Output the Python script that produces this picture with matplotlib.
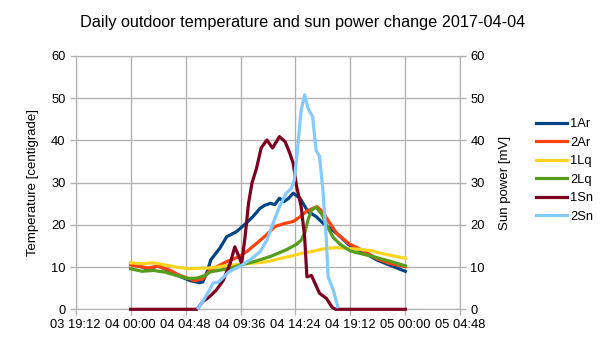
import matplotlib
matplotlib.use('Agg')
import matplotlib.pyplot as plt
import numpy as np

plt.rcParams['font.family'] = ['Liberation Sans', 'DejaVu Sans']

# hours since 04 00:00
t_1ar = [0, 0.8, 1.5, 2.4, 3.4, 4.3, 5.2, 6.0, 6.3, 6.7, 7.0, 7.8, 8.4, 9.25, 10.1, 10.7, 11.3, 11.7, 12.2,
         12.6, 13.0, 13.4, 13.8, 14.2, 14.8, 15.5, 16.2, 16.8, 18.0, 19.1, 20.3, 21.5, 22.6, 24.0]
v_1ar = [10.9, 10.2, 9.5, 10.3, 9.0, 7.8, 6.8, 6.3, 6.5, 9.0, 11.7, 14.5, 17.2, 18.4, 20.4, 22.0, 23.9, 24.6, 25.1,
         24.8, 26.3, 25.5, 26.3, 27.5, 26.3, 23.1, 22.0, 20.4, 18.0, 15.2, 13.6, 11.7, 10.5, 9.0]

t_2ar = [0, 1.5, 2.4, 3.4, 4.3, 5.2, 5.6, 6.3, 6.9, 7.6, 8.4, 9.5, 10.2, 11.0, 11.6, 12.2, 12.6, 13.4, 14.2,
         14.8, 15.4, 16.0, 16.3, 16.8, 17.4, 18.0, 19.1, 20.3, 21.5, 22.6, 24.0]
v_2ar = [10.5, 9.8, 10.2, 9.3, 8.0, 7.2, 6.8, 7.2, 9.2, 10.2, 11.3, 12.5, 13.8, 15.6, 17.0, 18.5, 19.6, 20.3, 20.8,
         21.9, 23.3, 24.0, 24.3, 23.0, 20.4, 18.0, 15.5, 13.9, 12.0, 10.9, 10.1]

t_1lq = list(range(25))
v_1lq = [11.0, 10.8, 11.0, 10.5, 10.0, 9.6, 9.7, 9.8, 10.2, 10.5, 10.8, 11.0, 11.3, 12.0, 12.6, 13.3, 13.8,
         14.4, 14.6, 14.4, 14.2, 13.9, 13.2, 12.6, 12.1]

t_2lq = [0, 1, 2, 3, 4, 5, 5.8, 6.5, 7.0, 8.7, 9.6, 10.8, 12.2, 13.6, 14.5, 14.9, 15.2, 15.5, 15.8, 16.2,
         16.7, 17.2, 17.7, 18.3, 19.2, 21.3, 22.5, 24.0]
v_2lq = [9.6, 9.0, 9.2, 8.8, 8.0, 7.3, 7.4, 8.0, 8.9, 9.7, 10.5, 11.3, 12.5, 14.1, 15.4, 16.4, 18.0, 21.2, 23.5,
         24.2, 22.5, 19.5, 17.0, 15.4, 13.8, 12.4, 11.5, 10.3]

t_1sn = [0, 5.8, 6.3, 6.9, 7.5, 8.1, 8.7, 9.1, 9.7, 10.0, 10.3, 10.6, 11.0, 11.4, 11.9, 12.4, 13.0, 13.5,
         13.9, 14.2, 14.5, 14.9, 15.2, 15.4, 15.8, 16.1, 16.5, 17.1, 17.6, 17.9, 24.0]
v_1sn = [0, 0, 1.8, 3.0, 4.6, 6.9, 10.9, 14.8, 10.9, 17.2, 25.1, 29.9, 33.4, 38.2, 40.1, 38.2, 40.9, 39.7,
         37.0, 34.6, 29.1, 24.3, 17.2, 7.7, 8.0, 6.2, 3.8, 2.6, 0.5, 0, 0]

t_2sn = [5.9, 6.3, 6.9, 7.2, 7.7, 8.6, 9.5, 10.4, 11.3, 11.9, 12.45, 13.0, 13.6, 14.05, 14.3, 14.6, 14.9,
         15.2, 15.5, 15.9, 16.2, 16.5, 16.8, 17.1, 17.25, 17.7, 18.1]
v_2sn = [0.3, 1.8, 4.6, 6.2, 6.5, 8.9, 10.1, 11.7, 13.6, 16.4, 20.4, 24.3, 27.5, 28.7, 30.6, 38.5, 47.2,
         50.8, 47.6, 45.6, 37.7, 36.2, 28.3, 16.4, 7.7, 4.6, 0.6]

xticks = [-4.8, 0, 4.8, 9.6, 14.4, 19.2, 24.0, 28.8]
xlabels = ['03 19:12', '04 00:00', '04 04:48', '04 09:36', '04 14:24', '04 19:12', '05 00:00', '05 04:48']
yticks = [0, 10, 20, 30, 40, 50, 60]

grid_c = '#b3b3b3'
lw = 2.3

fig = plt.figure(figsize=(6.05, 3.4), dpi=100)
ax = fig.add_axes([0.1251, 0.0903, 0.6357, 0.745])
ax2 = ax.twinx()

h1, = ax.plot(t_1ar, v_1ar, color='#004586', lw=lw, label='1Ar', clip_on=False, zorder=3)
h2, = ax.plot(t_2ar, v_2ar, color='#ff420e', lw=lw, label='2Ar', clip_on=False, zorder=3)
h3, = ax.plot(t_1lq, v_1lq, color='#ffd320', lw=lw, label='1Lq', clip_on=False, zorder=3)
h4, = ax.plot(t_2lq, v_2lq, color='#579d1c', lw=lw, label='2Lq', clip_on=False, zorder=3)
h5, = ax2.plot(t_1sn, v_1sn, color='#7e0021', lw=lw, label='1Sn', clip_on=False, zorder=3)
h6, = ax2.plot(t_2sn, v_2sn, color='#83caff', lw=lw, label='2Sn', clip_on=False, zorder=3)

for a in (ax, ax2):
    a.set_ylim(0, 60)
    a.set_yticks(yticks)
    a.set_xlim(-4.8, 28.8)
    for s in a.spines.values():
        s.set_color(grid_c)
        s.set_zorder(1)
    a.tick_params(colors=grid_c, labelcolor='black', labelsize=9.3, length=4.3, width=1, pad=3)

ax.set_xticks(xticks)
ax.set_xticklabels(xlabels)
ax.grid(True, color=grid_c, lw=1)
ax.set_axisbelow(True)

ax.set_ylabel('Temperature [centigrade]', fontsize=9.5, labelpad=9)
ax2.set_ylabel('Sun power [mV]', fontsize=9.5, labelpad=10)
fig.suptitle('Daily outdoor temperature and sun power change 2017-04-04', fontsize=11.7, y=0.935, va='center')

fig.legend(handles=[h1, h2, h3, h4, h5, h6], loc='center left', bbox_to_anchor=(0.886, 0.499),
           frameon=False, fontsize=9.3, handlelength=2.4, handletextpad=0.25, labelspacing=0.5,
           borderpad=0, borderaxespad=0)

fig.savefig('out.png', dpi=100)
